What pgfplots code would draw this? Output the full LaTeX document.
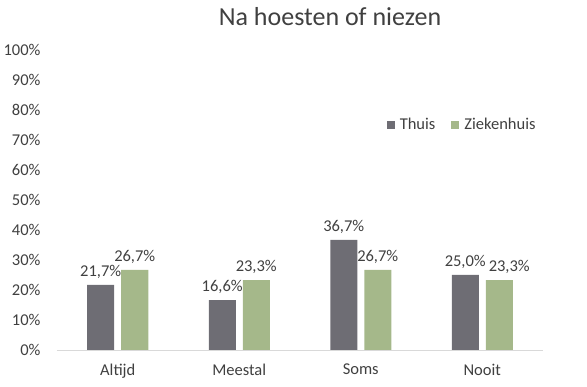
\documentclass[border=0pt]{standalone}
\usepackage{pgfplots}
\pgfplotsset{compat=1.18}
\usepackage{fontspec}
\setmainfont{Carlito}
\definecolor{thuis}{HTML}{6E6D74}
\definecolor{zkh}{HTML}{A5B88A}
\definecolor{txt}{HTML}{404040}
\definecolor{axl}{HTML}{D9D9D9}
\begin{document}
\begin{tikzpicture}
\path[use as bounding box] (0,0) rectangle (587pt,387pt);
\node[text=txt, font=\fontsize{26}{30}\selectfont, anchor=base] at (330pt,361pt) {Na hoesten of niezen};
\begin{axis}[
  at={(57pt,37pt)}, anchor=south west,
  scale only axis, width=486pt, height=300pt,
  ybar, bar width=27pt,
  xmin=-0.5, xmax=3.5, ymin=0, ymax=100,
  xtick=data, xticklabels={Altijd,Meestal,Soms,Nooit},
  ytick={0,10,...,100},
  yticklabel={\pgfmathprintnumber{\tick}\%},
  /pgf/number format/assume math mode=true,
  tick label style={font=\fontsize{16.5}{19}\selectfont, text=txt},
  ymajorgrids=false,
  axis line style={draw=none},
  tick style={draw=none},
  yticklabel style={xshift=-13pt},
  xticklabel style={yshift=-6pt},
  nodes near coords={\pgfmathprintnumber[fixed, fixed zerofill, precision=1, use comma]{\pgfplotspointmeta}\%},
  nodes near coords style={font=\fontsize{16.5}{19}\selectfont, text=txt, yshift=3pt, /pgf/number format/assume math mode=true},
  legend style={at={(rel axis cs:0.672,0.75)}, anchor=west, draw=none, fill=none,
     legend columns=2, font=\fontsize{16.5}{19}\selectfont, text=txt,
     /tikz/every even column/.append style={column sep=14pt},
     /tikz/every odd column/.append style={column sep=3pt}},
  legend image code/.code={\fill[#1] (0pt,-4pt) rectangle (8pt,4pt);},
  legend cell align=left,
  clip=false,
]
\addplot[fill=thuis, draw=none, bar shift=-17pt] coordinates {(0,21.7) (1,16.6) (2,36.7) (3,25.0)};
\addplot[fill=zkh, draw=none, bar shift=17pt,
  nodes near coords style={xshift={ifthenelse(\coordindex==3,10,0)}}] coordinates {(0,26.7) (1,23.3) (2,26.7) (3,23.3)};
\legend{Thuis,Ziekenhuis}
\draw[axl, line width=0.8pt] (axis cs:-0.5,0) -- (axis cs:3.5,0);
\end{axis}
\end{tikzpicture}
\end{document}
